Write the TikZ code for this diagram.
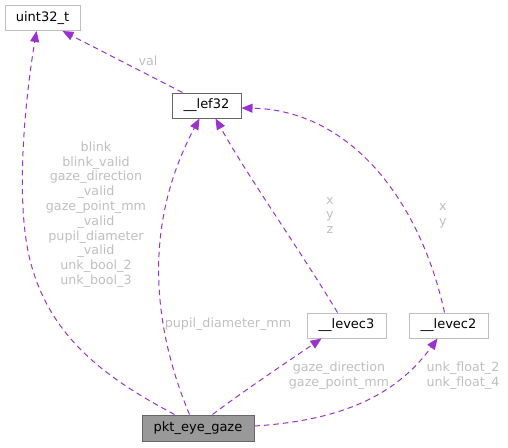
\documentclass[tikz,border=0pt]{standalone}
\usepackage{fontspec}
\setmainfont{DejaVu Sans}
\usetikzlibrary{arrows.meta,calc}
\definecolor{edgec}{HTML}{9A32CD}
\definecolor{labc}{HTML}{BFBFBF}
\definecolor{lightb}{HTML}{BFBFBF}
\definecolor{darkb}{HTML}{666666}
\definecolor{pktfill}{HTML}{999999}
\tikzset{
  box/.style={draw=lightb, line width=1pt, fill=white, inner sep=0pt, font=\fontsize{13}{15}\selectfont, text=black},
  darkbox/.style={box, draw=darkb},
  pktbox/.style={box, draw=darkb, fill=pktfill},
  rel/.style={draw=edgec, line width=1pt, dash pattern=on 5.5pt off 4pt, -{Triangle[length=11pt,width=9pt,fill=edgec]}},
  lab/.style={text=labc, font=\fontsize{12.7}{14.8}\selectfont, align=center, inner sep=0pt}
}
\begin{document}
\begin{tikzpicture}[x=1pt,y=-1pt]
\useasboundingbox (0,0) rectangle (508,447);
% nodes
\node[box, minimum width=75pt, minimum height=25pt] (u) at (42.5,18) {uint32\_t};
\node[darkbox, minimum width=69pt, minimum height=25pt] (l) at (206.5,105.5) {\_\_lef32};
\node[box, minimum width=79pt, minimum height=25pt] (v3) at (346.5,325.5) {\_\_levec3};
\node[box, minimum width=79pt, minimum height=25pt] (v2) at (448.5,325.5) {\_\_levec2};
\node[pktbox, minimum width=112pt, minimum height=26pt] (p) at (198,428) {pkt\_eye\_gaze};
% edges
\draw[rel] ([xshift=11pt]l.north west) -- ([xshift=58pt]u.south west);
\draw[rel] ([xshift=33pt]p.north west) .. controls (110,380) and (50,340) .. (30,260)
  .. controls (15,200) and (25,100) .. ([xshift=32pt]u.south west);
\draw[rel] ([xshift=48pt]p.north west) .. controls (150,320) and (145,220) .. ([xshift=28pt]l.south west);
\draw[rel] ([xshift=31pt]v3.north west) .. controls (300,250) and (250,180) .. ([xshift=44pt]l.south west);
\draw[rel] ([xshift=36pt]v2.north west) .. controls (420,200) and (350,110) .. ([yshift=-2.5pt]l.east);
\draw[rel] ([xshift=71pt]p.north west) .. controls (245,390) and (290,360) .. ([xshift=15pt]v3.south west);
\draw[rel] ([yshift=2pt]p.east) .. controls (350,420) and (400,390) .. ([xshift=29pt]v2.south west);
% labels
\node[lab] (lval) at (148,61) {val};
\node[lab] (lbig) at (96,214.5) {blink\\blink\_valid\\gaze\_direction\\\_valid\\gaze\_point\_mm\\\_valid\\pupil\_diameter\\\_valid\\unk\_bool\_2\\unk\_bool\_3};
\node[lab] (lpd) at (228,324) {pupil\_diameter\_mm};
\node[lab] (lxyz) at (330,215.5) {x\\y\\z};
\node[lab] (lxy) at (443,215.5) {x\\y};
\node[lab] (lgz) at (339,376) {gaze\_direction\\gaze\_point\_mm};
\node[lab] (luf) at (463,376) {unk\_float\_2\\unk\_float\_4};
\end{tikzpicture}
\end{document}
